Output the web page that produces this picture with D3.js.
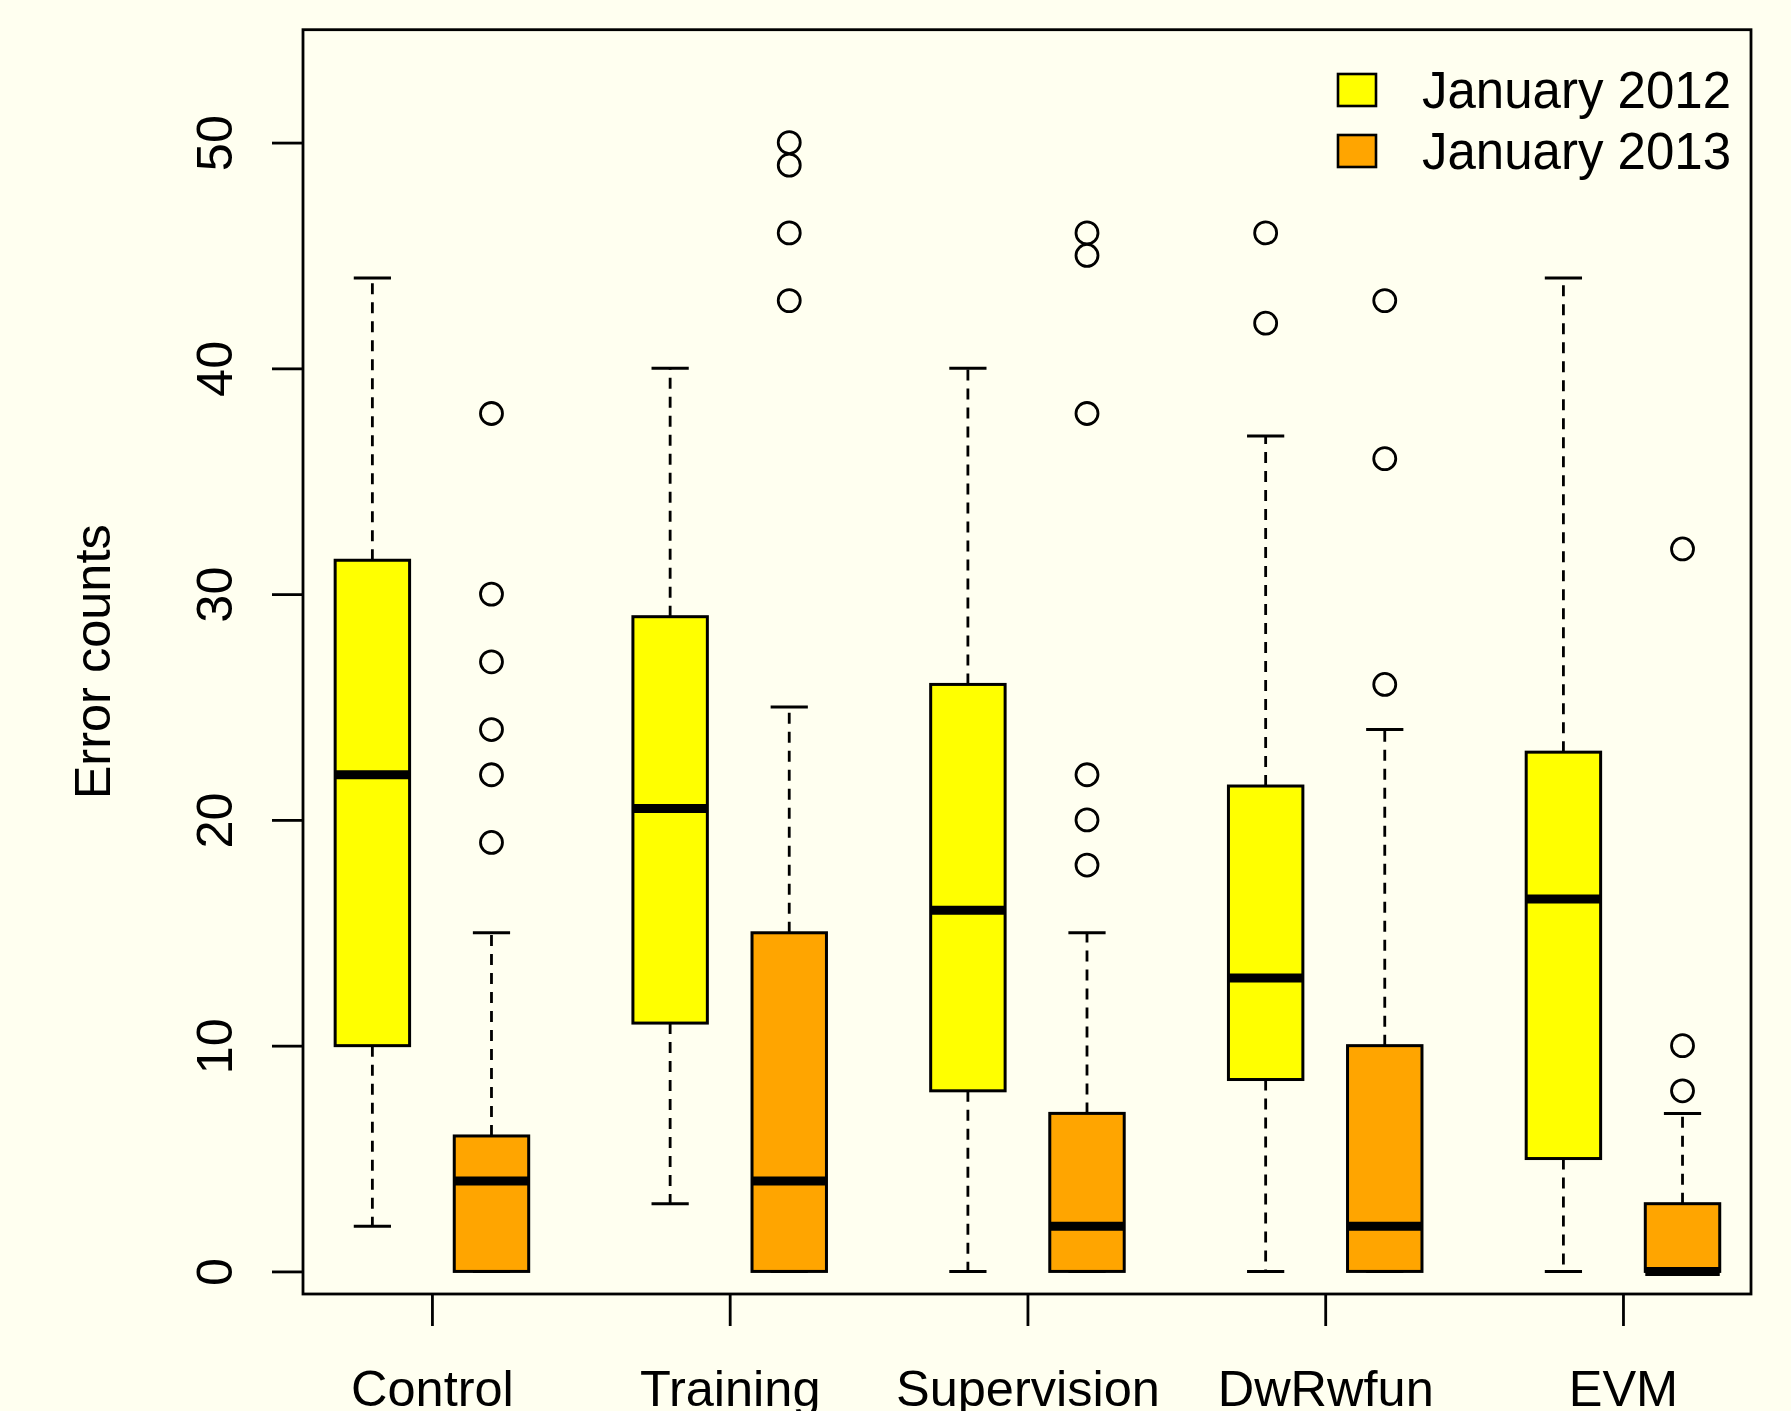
<!DOCTYPE html>
<html>
<head>
<meta charset="utf-8">
<script src="https://cdn.jsdelivr.net/npm/d3@7"></script>
<style>
  html, body { margin: 0; padding: 0; background: #FFFFF0; }
  svg { display: block; font-family: "Liberation Sans", Arial, sans-serif; }
</style>
</head>
<body>
<div id="chart"></div>
<script>
var chart_width = 1791;
var chart_height = 1411;

// data
var categories = ['Control', 'Training', 'Supervision', 'DwRwfun', 'EVM'];
var series_names = ['January 2012', 'January 2013'];
var series_colors = ['#FFFF00', '#FFA500'];

// [lower whisker, Q1, median, Q3, upper whisker]
var stats_2012 = [
    [2, 10, 22, 31.5, 44],
    [3, 11, 20.5, 29, 40],
    [0, 8, 16, 26, 40],
    [0, 8.5, 13, 21.5, 37],
    [0, 5, 16.5, 23, 44]
];
var stats_2013 = [
    [0, 0, 4, 6, 15],
    [0, 0, 4, 15, 25],
    [0, 0, 2, 7, 15],
    [0, 0, 2, 10, 24],
    [0, 0, 0, 3, 7]
];
var outliers_2012 = [[], [], [], [46, 42], []];
var outliers_2013 = [
    [38, 30, 27, 24, 22, 19],
    [50, 49, 46, 43],
    [46, 45, 38, 22, 20, 18],
    [43, 36, 26],
    [32, 10, 8]
];
var y_ticks = [0, 10, 20, 30, 40, 50];

var svg = d3.select('#chart')
            .append('svg')
            .attr('width', chart_width)
            .attr('height', chart_height);

svg.append('rect')
    .attr('width', chart_width)
    .attr('height', chart_height)
    .attr('fill', '#FFFFF0');

var plot_left = 303, plot_right = 1751, plot_top = 29.7, plot_bottom = 1294;

//Create Scales
var x_scale = d3.scaleLinear()
                .domain([0.567, 5.43])
                .range([plot_left, plot_right]);

var y_scale = d3.scaleLinear()
                .domain([-1, 55])
                .range([plot_bottom, plot_top]);

var unit = x_scale(1) - x_scale(0);
var box_offset = 0.2;
var box_w = 0.25 * unit;

// boxes for each series
var series = [
    {stats: stats_2012, out: outliers_2012, shift: -box_offset, color: series_colors[0]},
    {stats: stats_2013, out: outliers_2013, shift: box_offset, color: series_colors[1]}
];

series.forEach((s) => {
    var g = svg.append('g');
    var boxes = g.selectAll('g.box')
        .data(s.stats)
        .enter()
        .append('g')
        .attr('class', 'box')
        .attr('transform', (d, i) => {
            return 'translate(' + x_scale(i + 1 + s.shift) + ',0)';
        });

    // whiskers (dashed)
    boxes.append('line')
        .attr('x1', 0).attr('x2', 0)
        .attr('y1', (d) => y_scale(d[3]))
        .attr('y2', (d) => y_scale(d[4]))
        .attr('stroke', '#000')
        .attr('stroke-width', 2.8)
        .attr('stroke-dasharray', '11,8');
    boxes.append('line')
        .attr('x1', 0).attr('x2', 0)
        .attr('y1', (d) => y_scale(d[1]))
        .attr('y2', (d) => y_scale(d[0]))
        .attr('stroke', '#000')
        .attr('stroke-width', 2.8)
        .attr('stroke-dasharray', '11,8');

    // staples
    boxes.selectAll('line.staple')
        .data((d) => [d[0], d[4]])
        .enter()
        .append('line')
        .attr('class', 'staple')
        .attr('x1', -box_w / 4).attr('x2', box_w / 4)
        .attr('y1', (v) => y_scale(v))
        .attr('y2', (v) => y_scale(v))
        .attr('stroke', '#000')
        .attr('stroke-width', 3);

    // box
    boxes.append('rect')
        .attr('x', -box_w / 2)
        .attr('width', box_w)
        .attr('y', (d) => y_scale(d[3]))
        .attr('height', (d) => y_scale(d[1]) - y_scale(d[3]))
        .attr('fill', s.color)
        .attr('stroke', '#000')
        .attr('stroke-width', 3);

    // median
    boxes.append('line')
        .attr('x1', -box_w / 2).attr('x2', box_w / 2)
        .attr('y1', (d) => y_scale(d[2]))
        .attr('y2', (d) => y_scale(d[2]))
        .attr('stroke', '#000')
        .attr('stroke-width', 9);

    // outliers
    var pts = [];
    s.out.forEach((arr, i) => {
        arr.forEach((v) => pts.push([i + 1 + s.shift, v]));
    });
    g.selectAll('circle')
        .data(pts)
        .enter()
        .append('circle')
        .attr('cx', (d) => x_scale(d[0]))
        .attr('cy', (d) => y_scale(d[1]))
        .attr('r', 11)
        .attr('fill', 'none')
        .attr('stroke', '#000')
        .attr('stroke-width', 2.8);
});

//Create Axes
var y_axis = d3.axisLeft(y_scale)
               .tickValues(y_ticks)
               .tickSize(31);
var y_g = svg.append('g')
    .attr('transform', 'translate(' + plot_left + ',0)')
    .call(y_axis);
y_g.select('.domain').remove();
y_g.selectAll('.tick line').attr('stroke-width', 2.8);
y_g.selectAll('.tick text')
    .attr('x', null)
    .attr('dy', null)
    .attr('text-anchor', 'middle')
    .attr('transform', 'translate(-71,0) rotate(-90)')
    .attr('font-size', 50.5)
    .attr('fill', '#000');

var x_axis = d3.axisBottom(x_scale)
               .tickValues([1, 2, 3, 4, 5])
               .tickFormat((d) => categories[d - 1])
               .tickSize(32);
var x_g = svg.append('g')
    .attr('transform', 'translate(0,' + plot_bottom + ')')
    .call(x_axis);
x_g.select('.domain').remove();
x_g.selectAll('.tick line').attr('stroke-width', 2.8);
x_g.selectAll('.tick text')
    .attr('dy', null)
    .attr('y', 112)
    .attr('font-size', 50.5)
    .attr('fill', '#000');

// frame
svg.append('rect')
    .attr('x', plot_left)
    .attr('y', plot_top)
    .attr('width', plot_right - plot_left)
    .attr('height', plot_bottom - plot_top)
    .attr('fill', 'none')
    .attr('stroke', '#000')
    .attr('stroke-width', 2.8);

// y label
svg.append('text')
    .attr('transform', 'translate(110,' + (plot_top + plot_bottom) / 2 + ') rotate(-90)')
    .attr('text-anchor', 'middle')
    .attr('font-size', 50.5)
    .text('Error counts');

//Create Legend
var legend = svg.selectAll('g.legend')
    .data(series_names)
    .enter()
    .append('g')
    .attr('class', 'legend')
    .attr('transform', (d, i) => 'translate(1338,' + (74 + i * 61) + ')');
legend.append('rect')
    .attr('width', 38)
    .attr('height', 32)
    .attr('fill', (d, i) => series_colors[i])
    .attr('stroke', '#000')
    .attr('stroke-width', 2.6);
legend.append('text')
    .attr('x', 84)
    .attr('y', 34)
    .attr('font-size', 51)
    .text((d) => d);
</script>
</body>
</html>
